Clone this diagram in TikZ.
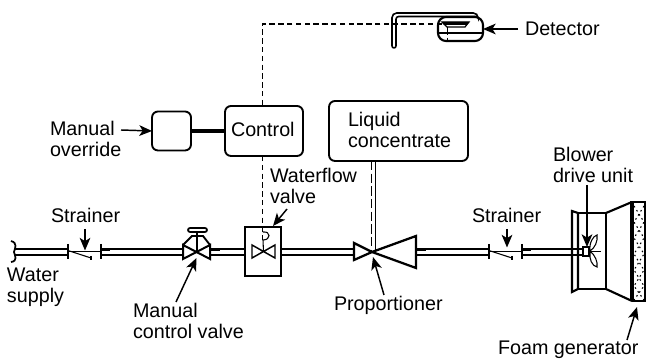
\documentclass[tikz,border=0pt]{standalone}
\usepackage{fontspec}
\setmainfont{Liberation Sans}
\usetikzlibrary{arrows.meta}
\newcommand{\twolines}[2]{\begin{tabular}[t]{@{}l@{}}#1\\#2\end{tabular}}
\tikzset{
  lbl/.style={inner sep=0pt,outer sep=0pt,anchor=base west,font=\fontsize{14.8}{15.5}\selectfont},
  boxstyle/.style={draw,line width=1.4pt,rounded corners=4.5pt,inner sep=0pt,outer sep=0pt},
  hw/.style={line width=1.5pt,line join=miter},
  thin1/.style={line width=0.8pt},
  flange/.style={line width=1.7pt},
  callout/.style={line width=1.1pt,-{Stealth[length=9.5pt,width=8pt,inset=2.5pt]}},
  sig/.style={line width=0.9pt,dash pattern=on 4pt off 2.6pt},
}
\begin{document}
\begin{tikzpicture}[x=0.75pt,y=-0.75pt]
\useasboundingbox (0,0) rectangle (646,359);
% boxes
\node[boxstyle,minimum width=29.25pt,minimum height=29.25pt] (override) at (171.5,131) {};
\node[boxstyle,minimum width=58.5pt,minimum height=37.5pt] (control) at (264,131) {};
\node[boxstyle,minimum width=104.25pt,minimum height=45pt] (liquid) at (398.5,131) {};
\node[lbl] (tcontrol) at (231,137) {Control};
\node[lbl] (tliquid) at (348,127) {\twolines{Liquid}{concentrate}};
\node[lbl] (toverride) at (50,136) {\twolines{Manual}{override}};
\node[lbl] (tdetector) at (525,36) {Detector};
\node[lbl] (tstrain1) at (51,222.7) {Strainer};
\node[lbl] (tstrain2) at (472,222.7) {Strainer};
\node[lbl] (twater) at (7,282) {\twolines{Water}{supply}};
\node[lbl] (tmanual) at (133,318) {\twolines{Manual}{control valve}};
\node[lbl] (twflow) at (270,182.5) {\twolines{Waterflow}{valve}};
\node[lbl] (tprop) at (334,311) {Proportioner};
\node[lbl] (tblower) at (553,162) {\twolines{Blower}{drive unit}};
\node[lbl] (tfoam) at (498,355) {Foam generator};
% control links
\draw[line width=2.6pt] (override.east) -- (control.west);
\coordinate (dtop) at (262.7,24);
\coordinate (dfunnel) at (442,24);
\draw[sig] (dfunnel) -- (dtop) -- (control.north -| dtop);
\draw[sig] (control.south -| dtop) -- (262.7,240);
\draw[thin1] (263,240) -- (263.5,252);
% pipes
\foreach \a/\b in {15/68,101/183,210/245,281/354,416/489,522/583}{
  \draw[hw] (\a,249.3) -- (\b,249.3);
  \draw[hw] (\a,254.7) -- (\b,254.7);
}
\draw[line width=2.2pt] (101,249.3) -- (110,249.3);
\draw[line width=2.2pt] (522,249.3) -- (531,249.3);
\draw[line width=2.2pt] (416,249.3) -- (426,249.3);
\draw[line width=2.2pt] (210,249.3) -- (220,249.3);
% supply end
\draw[line width=1.3pt] (11,241) .. controls (18,243) and (15,248) .. (14,252) .. controls (15,256) and (18,261) .. (11,262);
% strainers
\foreach \x in {68,489}{
  \draw[flange] (\x,244) -- (\x,259);
  \draw[flange] (\x+33,244) -- (\x+33,259);
  \draw[thin1] (\x,251.5) -- (\x+33,251.5);
  \draw[thin1] (\x,250.5) -- (\x+23,258);
  \draw[thin1] (\x+23,256) -- (\x+23,260);
}
% manual valve
\draw[line width=1.5pt,line join=miter] (183,245) -- (210,259) -- (210,245) -- (183,259) -- cycle;
\draw[line width=1.4pt] (183,245) -- (192,236) -- (203,236) -- (210,245);
\draw[line width=1.3pt] (197,232) -- (197,236);
\draw[thin1] (197,236) -- (197,252);
\draw[line width=1.3pt,rounded corners=1.5pt] (188,228) rectangle (207,232);
% waterflow valve
\node[draw,line width=1.6pt,minimum width=27pt,minimum height=36.75pt,inner sep=0pt,outer sep=0pt] (wf) at (263,251.5) {};
\draw[line width=1.1pt] (252,245) -- (275,258) -- (275,245) -- (252,258) -- cycle;
\draw[thin1] (263,240) .. controls (271,240) and (271,231) .. (263,232);
% proportioner
\draw[line width=1.7pt,line join=miter] (354,243) -- (372,252) -- (354,260) -- cycle;
\draw[line width=1.7pt,line join=miter] (372,252) -- (416,236) -- (416,268) -- cycle;
\draw[line width=0.6pt,dash pattern=on 7pt off 2.5pt] (liquid.south -| 371,0) -- (371,252);
\draw[line width=0.6pt] (liquid.south -| 375,0) -- (375,250);
% blower and generator
\draw[line width=1.6pt] (572,211) -- (578,213) -- (578,289) -- (572,292) -- cycle;
\draw[line width=1.6pt] (578,213) -- (606,213) -- (606,289) -- (578,289);
\draw[line width=1.6pt] (606,213) -- (632,202) (606,289) -- (632,301);
\draw[line width=1.3pt] (632,202) -- (645,202) -- (645,301) -- (632,301);
\draw[line width=2.7pt] (632,201.5) -- (632,301.5);
\draw[line width=0.8pt,dash pattern=on 1.2pt off 2.4pt] (634,206) -- (644,222) -- (634,238) -- (644,254) -- (634,270) -- (644,286) -- (634,300);
\draw[line width=0.8pt,dash pattern=on 1.2pt off 2.4pt] (644,206) -- (634,222) -- (644,238) -- (634,254) -- (644,270) -- (634,286) -- (644,300);
\draw[line width=0.8pt] (590,251) .. controls (589,243) and (593,236) .. (597,235) .. controls (598,241) and (595,248) .. (590,251)
  .. controls (595,255) and (598,262) .. (597,267) .. controls (592,266) and (589,259) .. (590,252);
\draw[line width=0.9pt] (590,251.5) -- (601,251.5);
\node[draw,line width=1.7pt,fill=white,minimum width=5pt,minimum height=6.5pt,inner sep=0pt,outer sep=0pt] (drive) at (586,251.5) {};
% detector
\node[boxstyle,line width=1.6pt,rounded corners=6pt,minimum width=33.75pt,minimum height=18pt] (detbox) at (460.5,29) {};
\draw[thin1] (detbox.west |- 0,33) -- (detbox.east |- 0,33);
\draw[line width=1.2pt,rounded corners=3.5pt] (392,46) -- (392,13) -- (478,13) -- (478,17);
\draw[line width=1.2pt,rounded corners=2pt] (396,46) -- (396,16.5) -- (478,16.5);
\draw[line width=1.2pt] (392,46) .. controls (392,48.5) and (396,48.5) .. (396,46);
\fill (442,22) -- (469,22) -- (466.5,25) -- (444,25) -- cycle;
\draw[line width=0.9pt] (442,22) -- (469,22) -- (465,27) -- (447,27) -- cycle;
\draw[line width=0.7pt,dash pattern=on 6pt off 2pt] (447,27) -- (447,40);
% callouts
\coordinate (a1) at (85,229); \coordinate (b1) at (85,250.5);
\coordinate (a2) at (507,229); \coordinate (b2) at (507,247.5);
\coordinate (a3) at (176,302); \coordinate (b3) at (196.5,258);
\coordinate (a4) at (287,209); \coordinate (b4) at (273,226);
\coordinate (a5) at (384,295); \coordinate (b5) at (373,257);
\coordinate (a6) at (587,185); \coordinate (b6) at (587,247);
\coordinate (a7) at (627,340); \coordinate (b7) at (637,307);
\coordinate (a8) at (518,29);
\coordinate (a9) at (121,130);
\draw[callout] (a1) -- (b1);
\draw[callout] (a2) -- (b2);
\draw[callout] (a3) -- (b3);
\draw[callout] (a4) -- (b4);
\draw[callout] (a5) -- (b5);
\draw[callout] (a6) -- (b6);
\draw[callout] (a7) -- (b7);
\draw[callout] (a8) -- (detbox.east);
\draw[callout] (a9) -- (override.west);
\end{tikzpicture}
\end{document}
